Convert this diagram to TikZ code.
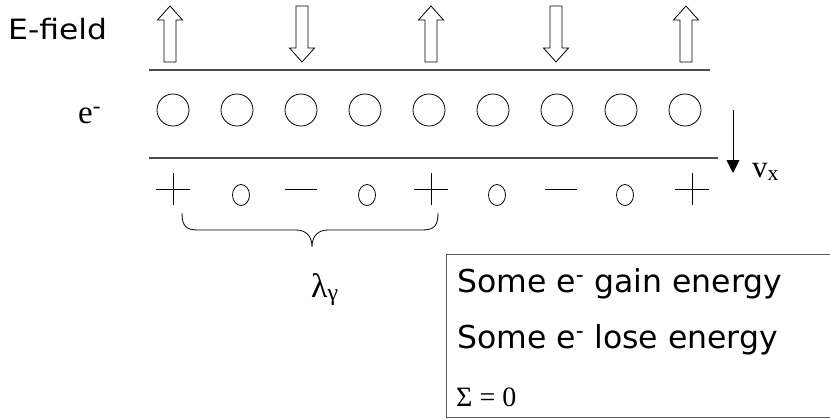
\documentclass[tikz,border=0pt]{standalone}
\usepackage{fontspec}
\setmainfont{Liberation Serif}
\newfontfamily\dvs{DejaVu Sans}
\usetikzlibrary{arrows.meta}
\begin{document}
\begin{tikzpicture}[x=1pt,y=-1pt,
  rule/.style={draw=black!70, line width=1.1pt},
  elec/.style={circle, draw, line width=0.8pt, minimum size=32pt, inner sep=0pt},
  blk/.style={draw, line width=0.8pt, fill=white},
  sign/.style={draw, line width=0.8pt},
  lbl/.style={anchor=base west, inner sep=0pt},
  boxtxt/.style={lbl, font=\dvs\fontsize{31.5}{34}\selectfont}]
\useasboundingbox (0,0) rectangle (830,418);
\clip (0,0) rectangle (830,418);

% E-field label
\node[lbl, font=\dvs\fontsize{28}{30}\selectfont] (efield) at (8,39) {\scalebox{1.12}[1]{E-field}};

% block arrows
\foreach \x in {170,431,686}
  \draw[blk] (\x,6) -- (\x+12.5,20) -- (\x+6,20) -- (\x+6,62) -- (\x-6,62) -- (\x-6,20) -- (\x-12.5,20) -- cycle;
\foreach \x in {302,556}
  \draw[blk] (\x-6,6) -- (\x+6,6) -- (\x+6,48) -- (\x+12.5,48) -- (\x,62) -- (\x-12.5,48) -- (\x-6,48) -- cycle;

% rules
\coordinate (tl) at (149,70);
\coordinate (tr) at (710,70);
\coordinate (bl) at (149,158);
\coordinate (br) at (718,158);
\draw[rule] (tl) -- (tr);
\draw[rule] (bl) -- (br);

% electrons
\node[lbl, font=\fontsize{33}{35}\selectfont] (elab) at (78,123) {e\textsuperscript{-}};
\foreach \i in {0,...,8}
  \node[elec] (e\i) at ({173+64*\i},110) {};

% velocity arrow
\coordinate (va) at (733,110);
\coordinate (vb) at (733,173);
\draw[line width=0.9pt, -{Triangle[length=13pt,width=13pt]}] (va) -- (vb);
\node[lbl, font=\fontsize{31}{33}\selectfont] (vx) at (752,177) {v\textsubscript{x}};

% charge signs
\foreach \x in {173,431,692}
  \draw[sign] (\x-17,189) -- (\x+17,189) (\x,173) -- (\x,205);
\foreach \x in {301,561}
  \draw[sign] (\x-16,189) -- (\x+16,189);
\foreach \x in {241,367,497,625}
  \draw[sign] (\x,195) ellipse [x radius=8.5pt, y radius=10.5pt];

% brace
\draw[sign] (182,213) .. controls (182,226) and (186,230) .. (198,230) -- (296,230)
  .. controls (306,230) and (312,236) .. (312,247)
  .. controls (312,236) and (318,230) .. (328,230) -- (422,230)
  .. controls (434,230) and (438,226) .. (438,213);
\node[lbl, font=\fontsize{34}{36}\selectfont] (lam) at (311,297) {λ\textsubscript{γ}};

% info box
\draw[draw=black!65, line width=0.9pt] (446,254) rectangle (840,417);
\node[boxtxt] (gain) at (457,292) {Some e\textsuperscript{-} gain energy};
\node[boxtxt] (lose) at (457,348) {Some e\textsuperscript{-} lose energy};
\node[lbl, font=\fontsize{28}{30}\selectfont] (sum) at (456,406) {Σ = 0};
\end{tikzpicture}
\end{document}
